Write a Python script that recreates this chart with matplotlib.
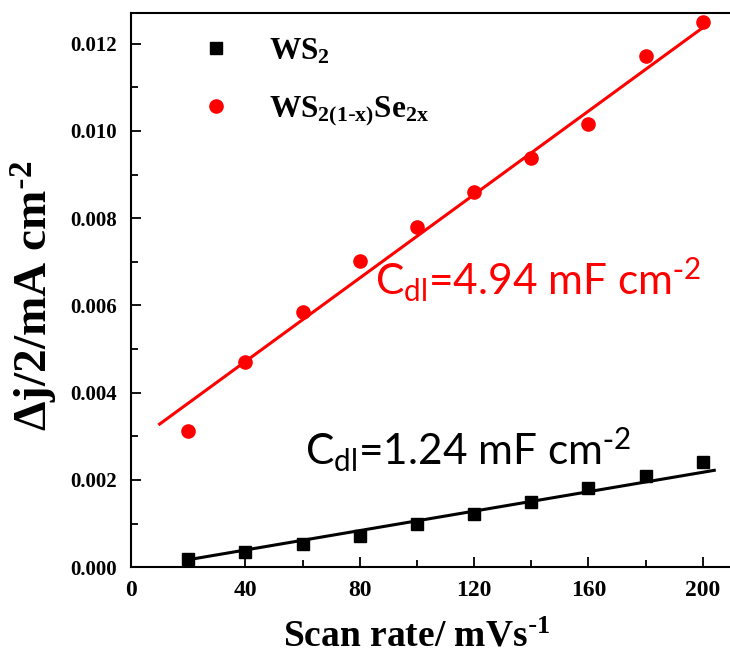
import numpy as np
import matplotlib
matplotlib.use("Agg")
import matplotlib.pyplot as plt
from matplotlib.ticker import MultipleLocator, FormatStrFormatter

plt.rcParams['mathtext.default'] = 'regular'

scan_rate = [20, 40, 60, 80, 100, 120, 140, 160, 180, 200]
ws2 = [0.00018, 0.00035, 0.00054, 0.00072, 0.00099, 0.00121, 0.00150, 0.00181, 0.00209, 0.00241]
wsse = [0.00312, 0.00470, 0.00586, 0.00703, 0.00779, 0.00859, 0.00937, 0.01015, 0.01173, 0.01249]

# fitted lines as drawn in the figure
fit_ws2_x = [20, 204]
fit_ws2_y = [0.00017, 0.00222]
fit_wsse_x = [10, 200]
fit_wsse_y = [0.00328, 0.01237]

fig = plt.figure(figsize=(7.30, 6.61), dpi=100)
ax = fig.add_axes([0.1795, 0.142, 0.8205, 0.838])

serif = 'Liberation Serif'
ax.plot(scan_rate, ws2, 's', color='black', ms=8.5, label='WS$_2$')
ax.plot(scan_rate, wsse, 'o', color='red', ms=9.5, label=r'WS$_{2(1\text{-}x)}$Se$_{2x}$')
ax.plot(fit_ws2_x, fit_ws2_y, color='black', lw=2.2)
ax.plot(fit_wsse_x, fit_wsse_y, color='red', lw=2.2)

ax.set_xlim(0, 209.5)
ax.set_ylim(0, 0.0127)
ax.xaxis.set_major_locator(MultipleLocator(40))
ax.xaxis.set_minor_locator(MultipleLocator(20))
ax.yaxis.set_major_locator(MultipleLocator(0.002))
ax.yaxis.set_minor_locator(MultipleLocator(0.001))
ax.yaxis.set_major_formatter(FormatStrFormatter('%.3f'))
ax.tick_params(which='both', direction='in', top=False, right=False)
ax.tick_params(which='major', length=7, width=1.3)
ax.tick_params(which='minor', length=5, width=1.3)
ax.tick_params(axis='x', which='major', labelsize=17, pad=9)
ax.tick_params(axis='y', which='major', labelsize=15, pad=10)
for lab in ax.get_xticklabels() + ax.get_yticklabels():
    lab.set_fontfamily(serif)
    lab.set_fontweight('bold')
for s in ['left', 'bottom', 'top']:
    ax.spines[s].set_linewidth(1.5)
ax.spines['right'].set_visible(False)

ax.set_xlabel(r'Scan rate/ mVs$^{\text{-}1}$', fontfamily=serif, fontweight='bold', fontsize=27)
ax.xaxis.set_label_coords(0.477, -0.095)
ax.set_ylabel(r'Δj/2/mA cm$^{\text{-}2}$', fontfamily=serif, fontweight='bold', fontsize=34)
ax.yaxis.set_label_coords(-0.118, 0.49)

leg = ax.legend(loc='upper left', bbox_to_anchor=(0.058, 1.008), frameon=False,
                prop={'family': serif, 'weight': 'bold', 'size': 22.5},
                handletextpad=1.0, labelspacing=0.88, handlelength=1.4)

ax.text(85.3, 0.00623, r'C$_{dl}$=4.94 mF cm$^{\text{-}2}$', color='red', fontfamily='Lato',
        fontsize=30.5, va='baseline')
ax.text(60.8, 0.00234, r'C$_{dl}$=1.24 mF cm$^{\text{-}2}$', color='black', fontfamily='Lato',
        fontsize=30.5, va='baseline')

fig.savefig('out.png', dpi=100)
